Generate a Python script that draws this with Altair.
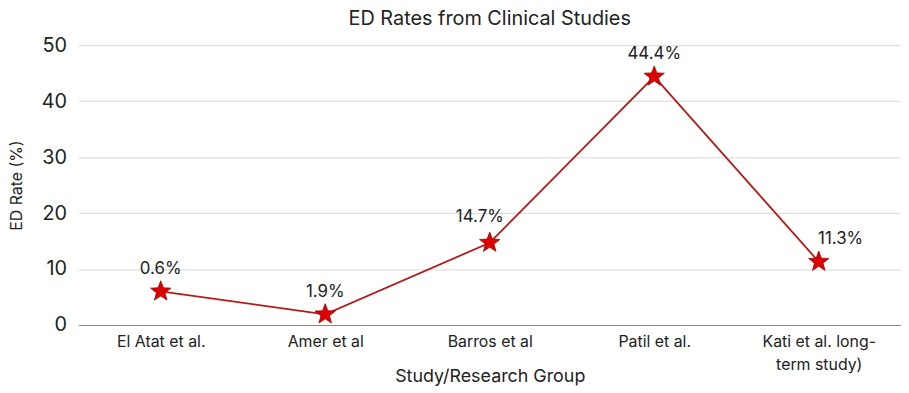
import altair as alt
import pandas as pd

studies = ["El Atat et al.", "Amer et al", "Barros et al", "Patil et al.", "Kati et al. long-|term study)"]
rates = [6.0, 1.9, 14.7, 44.4, 11.3]
labels = ["0.6%", "1.9%", "14.7%", "44.4%", "11.3%"]

df = pd.DataFrame({"study": studies, "rate": rates, "label": labels})

FONT = "Inter"
STAR = ("M0,-1L0.247,-0.34L0.951,-0.309L0.399,0.13L0.588,0.809L0,0.42"
        "L-0.588,0.809L-0.399,0.13L-0.951,-0.309L-0.247,-0.34Z")

x = alt.X("study:N", sort=studies, title="Study/Research Group",
          scale=alt.Scale(padding=0.5),
          axis=alt.Axis(labelAngle=0, ticks=False, domainColor="#888888", domainWidth=1,
                        labelFontSize=16, labelColor="#222222", labelPadding=9,
                        labelExpr="split(datum.label, '|')", labelLineHeight=23,
                        titleFontSize=18, titleColor="#222222", titleFontWeight="normal",
                        titleY=43, titleBaseline="top",
                        grid=False, labelFont=FONT, titleFont=FONT))
y = alt.Y("rate:Q", title="ED Rate (%)",
          scale=alt.Scale(domain=[0, 50], nice=False),
          axis=alt.Axis(values=[0, 10, 20, 30, 40, 50], domain=False, ticks=False,
                        gridColor="#d9d9d9", gridWidth=1, labelFontSize=20,
                        labelColor="#222222", labelPadding=12, titleFontSize=16,
                        titleColor="#222222", titleFontWeight="normal", titlePadding=17,
                        labelFont=FONT, titleFont=FONT))

base = alt.Chart(df).encode(x=x, y=y)

line = base.mark_line(color="#b31b1b", strokeWidth=1.8)
pts = base.mark_point(shape=STAR, filled=True, size=460, color="#dd0000",
                      stroke="#a00000", strokeWidth=0.8, opacity=1)

txt_c = base.mark_text(fontSize=17, font=FONT, color="#222222", dy=-23, baseline="middle").encode(
    text="label:N").transform_filter(
    alt.FieldOneOfPredicate(field="study", oneOf=[studies[0], studies[1], studies[3]]))
txt_b = base.mark_text(fontSize=17, font=FONT, color="#222222", dy=-26, dx=-10, baseline="middle").encode(
    text="label:N").transform_filter(alt.FieldEqualPredicate(field="study", equal=studies[2]))
txt_k = base.mark_text(fontSize=17, font=FONT, color="#222222", dy=-23, dx=22, baseline="middle").encode(
    text="label:N").transform_filter(alt.FieldEqualPredicate(field="study", equal=studies[4]))

chart = alt.layer(line, pts, txt_c, txt_b, txt_k).properties(
    width=829, height=282,
    title=alt.TitleParams("ED Rates from Clinical Studies", fontSize=20, font=FONT,
                          fontWeight="normal", color="#222222", offset=6, anchor="middle"),
    padding={"left": 0, "top": 0, "right": 0, "bottom": 0},
).configure_view(strokeWidth=0)

chart.save("out.html", embed_options={"renderer": "svg", "actions": False})
